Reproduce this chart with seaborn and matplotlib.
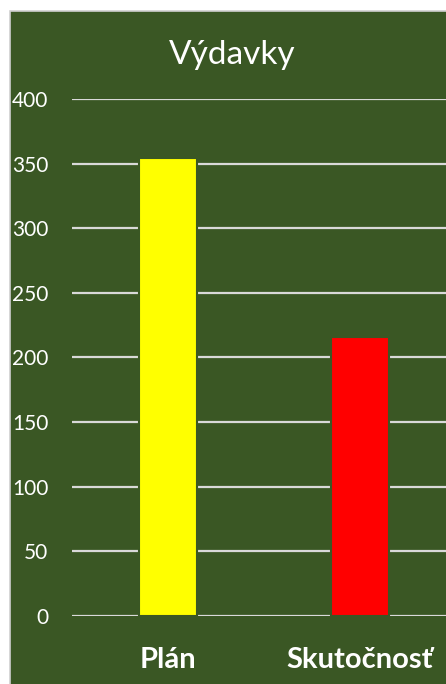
import matplotlib
matplotlib.use("Agg")
import matplotlib.pyplot as plt
import seaborn as sns
import pandas as pd
import numpy as np
from matplotlib.patches import Rectangle

# data
kategorie = ["Plán", "Skutočnosť"]
hodnoty = [354, 216]
farby = ["#FFFF00", "#FF0000"]
y_ticks = [0, 50, 100, 150, 200, 250, 300, 350, 400]

bg = "#3A5724"

sns.set_theme(style="white")
plt.rcParams['font.family'] = ['Lato', 'DejaVu Sans']

fig = plt.figure(figsize=(4.46, 6.84), dpi=100, facecolor="white")
# chart area with light gray border
fig.patches.append(Rectangle((9.5 / 446, -0.01), 1.0, 1 - 10.5 / 684 + 0.01,
                             transform=fig.transFigure, facecolor=bg,
                             edgecolor="#D0D0D0", linewidth=1.2, zorder=-10))

ax = fig.add_axes([72 / 446, 1 - 616 / 684, (446 - 72) / 446, (616 - 99) / 684])
ax.set_facecolor("none")

df = pd.DataFrame({"kat": kategorie, "val": hodnoty})
sns.barplot(data=df, x="kat", y="val", hue="kat", palette=farby, width=0.3,
            saturation=1, edgecolor=bg, linewidth=1.5, legend=False, ax=ax,
            zorder=3)

ax.set_xlim(-0.5, -0.5 + 374 / 192)
ax.set_ylim(0, 400)
ax.set_yticks(y_ticks)
ax.yaxis.grid(True, color="#D9D9D9", linewidth=1.6, zorder=0)
ax.set_axisbelow(True)
for s in ax.spines.values():
    s.set_visible(False)

ax.tick_params(axis="y", length=0, pad=17, labelsize=15, labelcolor="white")
ax.tick_params(axis="x", length=0, pad=22, labelsize=21, labelcolor="white")
for lab in ax.get_xticklabels():
    lab.set_fontweight("bold")
ax.set_xlabel("")
ax.set_ylabel("")

fig.text(232 / 446, 1 - 55 / 684, "Výdavky", ha="center", va="center",
         color="white", fontsize=24)

fig.savefig("out.png", dpi=100, facecolor="white")
